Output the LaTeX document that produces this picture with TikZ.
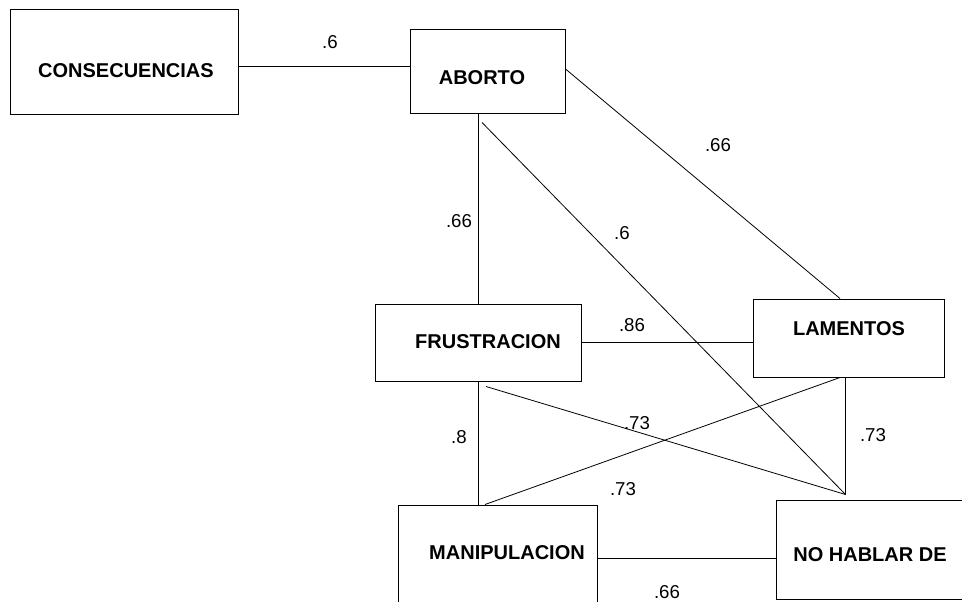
\documentclass[tikz,border=0pt]{standalone}
\usepackage{fontspec}
\setmainfont{Liberation Sans}
\usetikzlibrary{calc}

\begin{document}
\begin{tikzpicture}[
  x=0.75pt,
  y=-0.75pt,
  box/.style={
    draw=black,line width=0.75pt,inner sep=0pt,rectangle
  },
  boxtext/.style={
    inner sep=0pt,font=\bfseries\fontsize{15}{18}\selectfont
  },
  coef/.style={
    inner sep=0pt,font=\fontsize{14}{17}\selectfont
  },
  link/.style={line width=0.6pt,draw=black}
]
  \clip (0,0) rectangle (962,602);
  \fill[white] (0,0) rectangle (962,602);

  % Boxes
  \node[box,minimum width=171pt,minimum height=78.75pt] (cons) at (124,62.5) {};
  \node[boxtext] (cons-t) at (126,71) {CONSECUENCIAS};
  \node[box,minimum width=116.25pt,minimum height=63pt] (abo) at (487.5,72) {};
  \node[boxtext] (abo-t) at (482,78) {ABORTO};
  \node[box,minimum width=154.5pt,minimum height=57.75pt] (fru) at (478,342.5) {};
  \node[boxtext] (fru-t) at (488,342) {FRUSTRACION};
  \node[box,minimum width=143.25pt,minimum height=58.5pt] (lam) at (848.5,338) {};
  \node[boxtext] (lam-t) at (849,329) {LAMENTOS};
  \node[box,minimum width=149.25pt,minimum height=86.25pt] (man) at (497.5,562.5) {};
  \node[boxtext] (man-t) at (507,553) {MANIPULACION};
  \node[box,minimum width=149.25pt,minimum height=74.25pt] (nohab) at (875.5,549.5) {};
  \node[boxtext] (nohab-t) at (870,555) {NO HABLAR DE};
  \coordinate (meet) at ($(nohab.north west)+(70,-5)$);

  % Links
  \draw[link] ($(cons.east)+(0,3.5)$) -- ($(abo.west)+(0,-6)$);
  \draw[link] (abo.south -| fru.north) -- (fru.north);
  \draw[link] ($(abo.south)+(-5.5,8)$) -- (meet);
  \draw[link] ($(abo.east)+(0,-3)$) -- ($(lam.north)+(-8.5,0)$);
  \draw[link] (fru.east) -- (fru.east -| lam.west);
  \draw[link] (fru.south) -- (fru.south |- man.north);
  \draw[link] ($(fru.south)+(8,5)$) -- (meet);
  \draw[link] ($(lam.south)+(-8.5,0)$) -- ($(man.north)+(-12.5,0)$);
  \draw[link] (meet |- lam.south) -- (meet);
  \draw[link] ($(man.east)+(0,-4.5)$) -- ($(nohab.west)+(0,8.5)$);

  % Coefficients
  \node[coef] (c-cons-abo) at (330,42) {.6};
  \node[coef] (c-abo-fru) at (459,221) {.66};
  \node[coef] (c-abo-nohab) at (622,233) {.6};
  \node[coef] (c-abo-lam) at (718,145) {.66};
  \node[coef] (c-fru-lam) at (632,325) {.86};
  \node[coef] (c-fru-man) at (459,437) {.8};
  \node[coef] (c-fru-nohab) at (637,423) {.73};
  \node[coef] (c-lam-man) at (623,489) {.73};
  \node[coef] (c-lam-nohab) at (873,435) {.73};
  \node[coef] (c-man-nohab) at (667,592) {.66};
\end{tikzpicture}
\end{document}
